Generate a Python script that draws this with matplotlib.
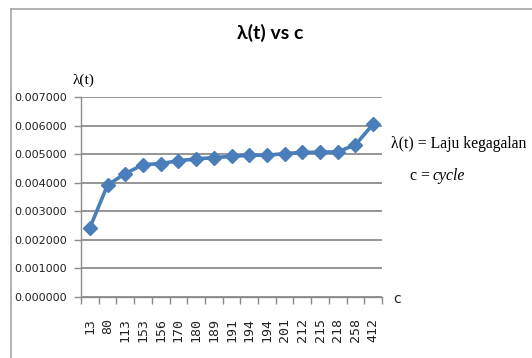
import matplotlib
matplotlib.use("Agg")
import matplotlib.pyplot as plt
import numpy as np

cycles = ["13", "80", "113", "153", "156", "170", "180", "189", "191", "194",
          "194", "201", "212", "215", "218", "258", "412"]
rates = [0.00242, 0.00392, 0.00432, 0.00463, 0.00467, 0.00477, 0.00483, 0.00488,
         0.00492, 0.00496, 0.00496, 0.00502, 0.00506, 0.00507, 0.00508, 0.00533, 0.00605]
yticks = [0.0, 0.001, 0.002, 0.003, 0.004, 0.005, 0.006, 0.007]

W, H = 532, 358
fig = plt.figure(figsize=(W / 100, H / 100), dpi=100)
fig.patch.set_facecolor("white")

# chart frame (left and top visible)
fig.add_artist(plt.Line2D([11 / W, 11 / W], [0, 1 - 9 / H], color="#a6a6a6", lw=1.2))
fig.add_artist(plt.Line2D([11 / W, 1], [1 - 9 / H, 1 - 9 / H], color="#a6a6a6", lw=1.2))

left, right, top, bottom = 81, 382, 97, 297
ax = fig.add_axes([left / W, 1 - bottom / H, (right - left) / W, (bottom - top) / H])

x = np.arange(len(cycles))
ax.plot(x, rates, color="#4A7EBB", lw=2.6, marker="D", markersize=7,
        markerfacecolor="#4A7EBB", markeredgecolor="#4A7EBB", zorder=3)

ax.set_xlim(-0.5, len(cycles) - 0.5)
ax.set_ylim(0, 0.007)
ax.set_yticks(yticks)
ax.set_yticklabels([f"{v:.6f}" for v in yticks], fontsize=8, family="DejaVu Sans",
                   color="#222222")
ax.yaxis.grid(True, color="#8c8c8c", lw=1.3)
ax.set_axisbelow(True)

ax.set_xticks(x)
ax.set_xticklabels(cycles, rotation=90, fontsize=9.5, family="DejaVu Sans Mono",
                   va="top", ha="center", color="#222222")
ax.set_xticks(np.arange(-0.5, len(cycles)), minor=True)
ax.tick_params(axis="x", which="major", length=0, pad=15)
ax.tick_params(axis="x", which="minor", length=5, color="#8c8c8c", width=1.0)
ax.tick_params(axis="y", length=5, color="#8c8c8c", width=1.0, pad=5)

for s in ["top", "right"]:
    ax.spines[s].set_visible(False)
for s in ["left", "bottom"]:
    ax.spines[s].set_color("#8c8c8c")
    ax.spines[s].set_linewidth(1.0)

fig.text(270 / W, 1 - 33 / H, "λ(t) vs c", fontsize=14, fontweight="bold",
         family="Lato", ha="center", va="center")
fig.text(84 / W, 1 - 80 / H, "λ(t)", fontsize=11, family="Liberation Serif",
         ha="center", va="center")
fig.text(397 / W, 1 - 299 / H, "c", fontsize=10, family="DejaVu Sans",
         ha="center", va="center", color="#222222")
fig.text(391 / W, 1 - 144 / H, "λ(t) = Laju kegagalan", fontsize=11.3,
         family="Liberation Serif", ha="left", va="center")
fig.text(410 / W, 1 - 176 / H, "c = ", fontsize=11.3, family="Liberation Serif",
         ha="left", va="center")
fig.text(433 / W, 1 - 176 / H, "cycle", fontsize=11.3, family="Liberation Serif",
         style="italic", ha="left", va="center")

fig.savefig("out.png", dpi=100, facecolor="white")
